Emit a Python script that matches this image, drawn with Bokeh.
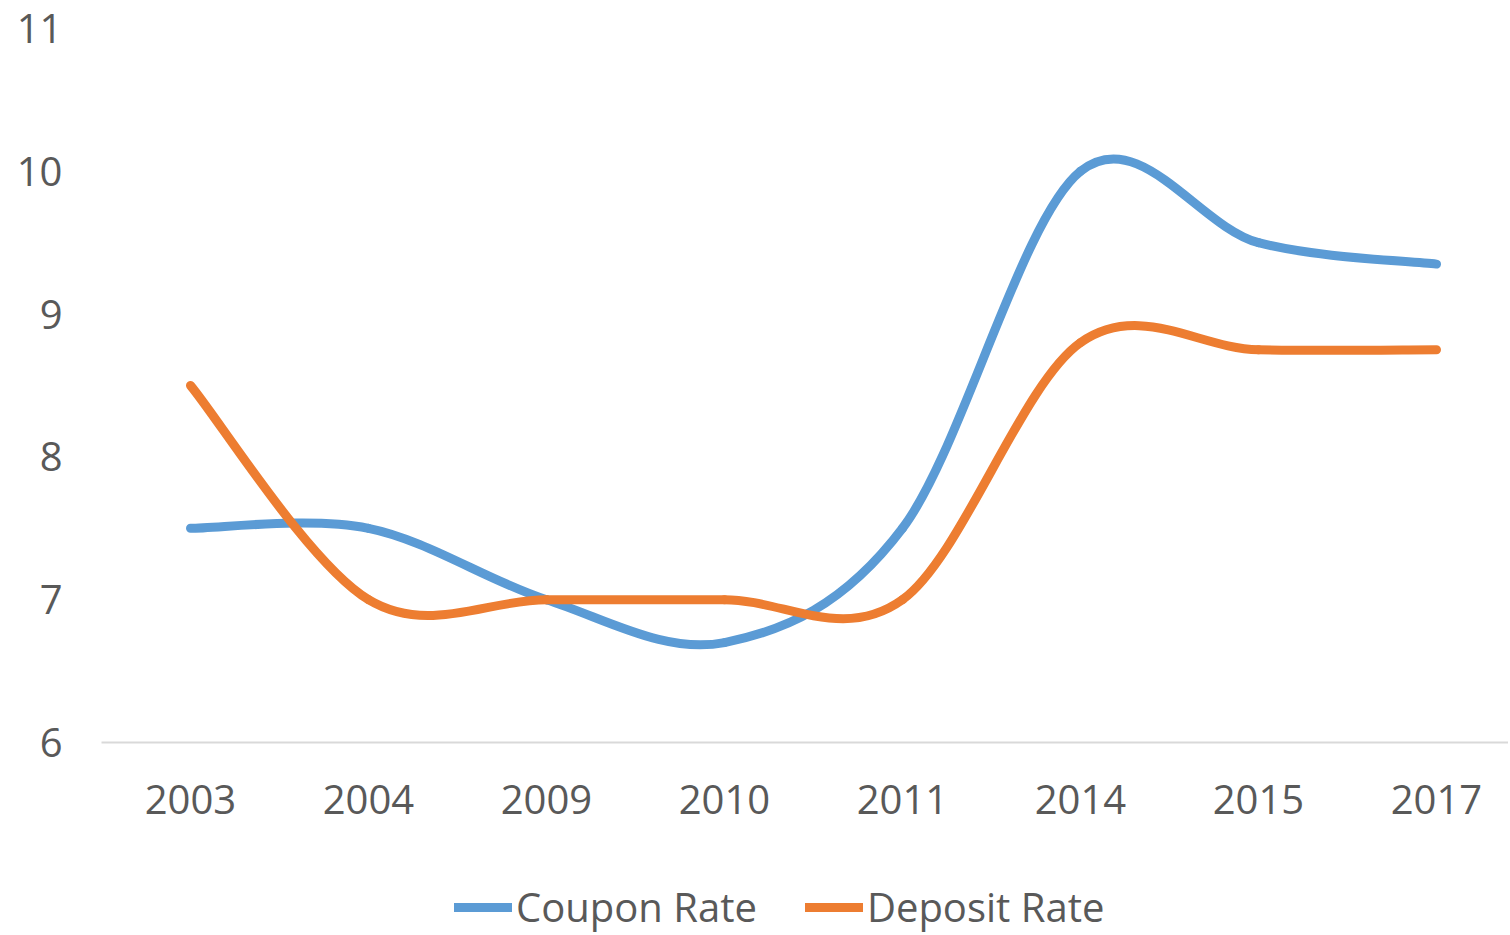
from bokeh.plotting import figure
from bokeh.layouts import column
from bokeh.models import Range1d, FixedTicker, Legend, LegendItem, ColumnDataSource
from bokeh.embed import file_html
from bokeh.resources import INLINE

years = ["2003", "2004", "2009", "2010", "2011", "2014", "2015", "2017"]
coupon_rate = [7.5, 7.5, 7.0, 6.7, 7.5, 10.0, 9.5, 9.35]
deposit_rate = [8.5, 7.0, 7.0, 7.0, 7.0, 8.8, 8.75, 8.75]
y_ticks = [6, 7, 8, 9, 10, 11]
series_names = ["Coupon Rate", "Deposit Rate"]

BLUE = "#5B9BD5"
ORANGE = "#ED7D31"
TEXT = "#595959"
FONT = "Open Sans"
W = 1508
FRAME_L = 101
FRAME_W = W - FRAME_L


def smooth_segments(vals):
    """Excel-like smoothed line: cubic Bezier segments (Catmull-Rom, tension 1/6)."""
    n = len(vals)
    xs = list(range(n))
    d = dict(x0=[], y0=[], x1=[], y1=[], cx0=[], cy0=[], cx1=[], cy1=[])
    for i in range(n - 1):
        a = max(i - 1, 0)
        b = min(i + 2, n - 1)
        d["x0"].append(xs[i]); d["y0"].append(vals[i])
        d["x1"].append(xs[i + 1]); d["y1"].append(vals[i + 1])
        d["cx0"].append(xs[i] + (xs[i + 1] - xs[a]) / 6)
        d["cy0"].append(vals[i] + (vals[i + 1] - vals[a]) / 6)
        d["cx1"].append(xs[i + 1] - (xs[b] - xs[i]) / 6)
        d["cy1"].append(vals[i + 1] - (vals[b] - vals[i]) / 6)
    return ColumnDataSource(d)


p = figure(width=W, height=865, output_backend="svg", toolbar_location=None,
           x_range=Range1d(-0.5, -0.5 + FRAME_W / 178.0), y_range=Range1d(6, 11),
           min_border_left=FRAME_L, min_border_right=0, min_border_top=28, min_border_bottom=123)
p.outline_line_color = None
p.xgrid.visible = False
p.ygrid.visible = False
p.background_fill_color = "white"
p.border_fill_color = "white"

lw = 9
colors = [BLUE, ORANGE]
for vals, col in zip([coupon_rate, deposit_rate], colors):
    src = smooth_segments(vals)
    p.bezier(x0="x0", y0="y0", x1="x1", y1="y1", cx0="cx0", cy0="cy0", cx1="cx1", cy1="cy1",
             source=src, line_color=col, line_width=lw, line_cap="round")

# x axis
p.xaxis.ticker = FixedTicker(ticks=list(range(len(years))))
p.xaxis.major_label_overrides = {i: y for i, y in enumerate(years)}
p.xaxis.axis_line_color = "#D9D9D9"
p.xaxis.axis_line_width = 2
p.xaxis.major_tick_line_color = None
p.xaxis.minor_tick_line_color = None
p.xaxis.major_label_text_font = FONT
p.xaxis.major_label_text_font_size = "40px"
p.xaxis.major_label_text_color = TEXT
p.xaxis.major_label_standoff = 36

# y axis
p.yaxis.ticker = FixedTicker(ticks=y_ticks)
p.yaxis.axis_line_color = None
p.yaxis.major_tick_line_color = None
p.yaxis.minor_tick_line_color = None
p.yaxis.major_label_text_font = FONT
p.yaxis.major_label_text_font_size = "40px"
p.yaxis.major_label_text_color = TEXT
p.yaxis.major_label_standoff = 33

# legend strip below the chart
lf = figure(width=W, height=70, output_backend="svg", toolbar_location=None,
            x_axis_location=None, y_axis_location=None,
            x_range=Range1d(0, 1), y_range=Range1d(0, 1), min_border=0)
lf.outline_line_color = None
lf.xgrid.visible = False
lf.ygrid.visible = False
items = []
for name, vals, col in zip(series_names, [coupon_rate, deposit_rate], colors):
    r = lf.line(x=[-10], y=[vals[0]], line_color=col, line_width=lw, line_cap="round")
    items.append(LegendItem(label=name, renderers=[r], index=0))
legend = Legend(items=items, orientation="horizontal", location=(353, 1),
                label_text_font=FONT, label_text_font_size="40px", label_text_color=TEXT,
                glyph_width=58, glyph_height=20, label_standoff=4, spacing=48,
                border_line_color=None, background_fill_alpha=0, padding=0, margin=0)
lf.add_layout(legend, "center")

open("out.html", "w").write(file_html(column(p, lf, spacing=0), INLINE))
